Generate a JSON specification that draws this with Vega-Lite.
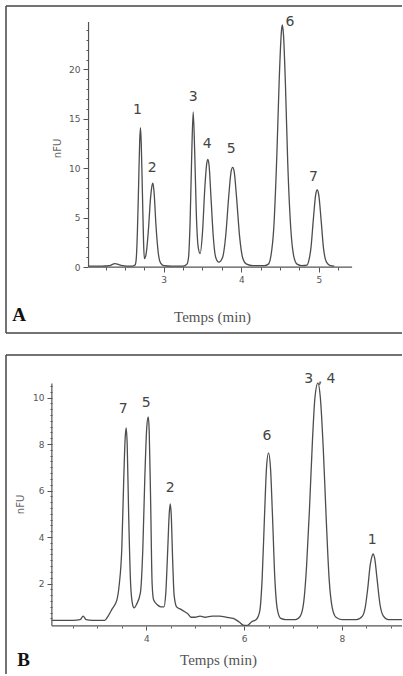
{
  "$schema": "https://vega.github.io/schema/vega-lite/v6.json",
  "padding": {"left": 5, "top": 5, "right": 0, "bottom": 0},
  "autosize": {"type": "pad"},
  "background": "white",
  "spacing": 20,
  "config": {
    "view": {"stroke": null},
    "axis": {"grid": false, "domain": false, "labelOverlap": false, "labelFont": "DejaVu Sans", "labelFontSize": 9, "labelColor": "#555", "tickColor": "#555", "tickWidth": 1, "titleFont": "Liberation Serif", "titleFontWeight": "normal", "titleColor": "#555"}
  },
  "datasets": {
    "frameA": [
      {"x1": 0.965, "x2": 0.965, "y1": -6.67, "y2": 26.42},
      {"x1": 0.965, "x2": 6.074, "y1": 26.42, "y2": 26.42},
      {"x1": 0.965, "x2": 6.074, "y1": -6.67, "y2": -6.67}
    ],
    "axesA": [
      {"x1": 2.03, "x2": 2.03, "y1": 0, "y2": 24.8},
      {"x1": 2.03, "x2": 5.43, "y1": 0, "y2": 0}
    ],
    "traceA": [
      {"t": 2.03, "v": 0.1}, {"t": 2.2, "v": 0.1}, {"t": 2.3, "v": 0.15}, {"t": 2.37, "v": 0.35}, {"t": 2.44, "v": 0.2},
      {"t": 2.52, "v": 0.1}, {"t": 2.6, "v": 0.1}, {"t": 2.63, "v": 0.2}, {"t": 2.645, "v": 0.8}, {"t": 2.66, "v": 3.5},
      {"t": 2.675, "v": 8.0}, {"t": 2.69, "v": 12.8}, {"t": 2.7, "v": 14.1}, {"t": 2.71, "v": 12.5}, {"t": 2.725, "v": 7.5},
      {"t": 2.74, "v": 2.5}, {"t": 2.75, "v": 0.85}, {"t": 2.77, "v": 1.2}, {"t": 2.8, "v": 3.5}, {"t": 2.83, "v": 7.0},
      {"t": 2.85, "v": 8.3}, {"t": 2.86, "v": 8.5}, {"t": 2.875, "v": 7.6}, {"t": 2.9, "v": 4.2}, {"t": 2.93, "v": 1.4},
      {"t": 2.96, "v": 0.4}, {"t": 3.0, "v": 0.15}, {"t": 3.1, "v": 0.1}, {"t": 3.25, "v": 0.1}, {"t": 3.3, "v": 0.3},
      {"t": 3.32, "v": 1.0}, {"t": 3.34, "v": 4.5}, {"t": 3.36, "v": 11.0}, {"t": 3.38, "v": 15.7}, {"t": 3.4, "v": 11.5},
      {"t": 3.42, "v": 5.5}, {"t": 3.445, "v": 2.0}, {"t": 3.47, "v": 1.37}, {"t": 3.5, "v": 3.5}, {"t": 3.53, "v": 8.0},
      {"t": 3.555, "v": 10.5}, {"t": 3.57, "v": 10.9}, {"t": 3.585, "v": 10.3}, {"t": 3.61, "v": 7.0}, {"t": 3.64, "v": 3.0},
      {"t": 3.67, "v": 1.0}, {"t": 3.71, "v": 0.5}, {"t": 3.76, "v": 1.0}, {"t": 3.8, "v": 3.2}, {"t": 3.84, "v": 7.3},
      {"t": 3.87, "v": 9.7}, {"t": 3.89, "v": 10.1}, {"t": 3.91, "v": 9.6}, {"t": 3.94, "v": 7.0}, {"t": 3.98, "v": 3.0},
      {"t": 4.02, "v": 0.9}, {"t": 4.07, "v": 0.3}, {"t": 4.15, "v": 0.15}, {"t": 4.3, "v": 0.15}, {"t": 4.35, "v": 0.3},
      {"t": 4.38, "v": 1.0}, {"t": 4.42, "v": 4.0}, {"t": 4.46, "v": 11.5}, {"t": 4.49, "v": 19.0}, {"t": 4.52, "v": 24.0},
      {"t": 4.53, "v": 24.5}, {"t": 4.545, "v": 23.5}, {"t": 4.57, "v": 18.5}, {"t": 4.6, "v": 10.5}, {"t": 4.64, "v": 3.8},
      {"t": 4.68, "v": 1.0}, {"t": 4.72, "v": 0.3}, {"t": 4.78, "v": 0.15}, {"t": 4.85, "v": 0.2}, {"t": 4.87, "v": 0.6},
      {"t": 4.9, "v": 2.0}, {"t": 4.93, "v": 4.8}, {"t": 4.96, "v": 7.3}, {"t": 4.98, "v": 7.8}, {"t": 5.0, "v": 7.3},
      {"t": 5.03, "v": 4.8}, {"t": 5.06, "v": 2.0}, {"t": 5.1, "v": 0.5}, {"t": 5.15, "v": 0.15}, {"t": 5.2, "v": 0.1}
    ],
    "labelsA": [
      {"t": 2.66, "v": 15.9, "label": "1"},
      {"t": 2.85, "v": 10.0, "label": "2"},
      {"t": 3.38, "v": 17.2, "label": "3"},
      {"t": 3.56, "v": 12.5, "label": "4"},
      {"t": 3.87, "v": 12.0, "label": "5"},
      {"t": 4.63, "v": 24.8, "label": "6"},
      {"t": 4.93, "v": 9.1, "label": "7"}
    ],
    "frameB": [
      {"x1": 1.132, "x2": 1.132, "y1": -1.89, "y2": 11.83},
      {"x1": 1.132, "x2": 9.23, "y1": 11.83, "y2": 11.83}
    ],
    "axesB": [
      {"x1": 2.07, "x2": 2.07, "y1": 0.18, "y2": 10.6},
      {"x1": 2.07, "x2": 9.23, "y1": 0.18, "y2": 0.18}
    ],
    "traceB": [
      {"t": 2.07, "v": 0.42}, {"t": 2.5, "v": 0.42}, {"t": 2.65, "v": 0.45}, {"t": 2.71, "v": 0.6}, {"t": 2.77, "v": 0.45},
      {"t": 2.9, "v": 0.42}, {"t": 3.15, "v": 0.42}, {"t": 3.22, "v": 0.6}, {"t": 3.3, "v": 0.9}, {"t": 3.4, "v": 1.3},
      {"t": 3.45, "v": 2.0}, {"t": 3.5, "v": 3.5}, {"t": 3.54, "v": 6.5}, {"t": 3.57, "v": 8.3}, {"t": 3.59, "v": 8.7},
      {"t": 3.61, "v": 8.0}, {"t": 3.64, "v": 5.0}, {"t": 3.68, "v": 2.0}, {"t": 3.72, "v": 1.1}, {"t": 3.75, "v": 0.95},
      {"t": 3.8, "v": 1.1}, {"t": 3.88, "v": 1.6}, {"t": 3.93, "v": 3.5}, {"t": 3.97, "v": 6.5}, {"t": 4.01, "v": 8.7},
      {"t": 4.04, "v": 9.17}, {"t": 4.06, "v": 8.6}, {"t": 4.09, "v": 5.5}, {"t": 4.12, "v": 2.0}, {"t": 4.15, "v": 1.3},
      {"t": 4.22, "v": 1.1}, {"t": 4.3, "v": 1.0}, {"t": 4.36, "v": 1.0}, {"t": 4.4, "v": 1.6}, {"t": 4.44, "v": 3.5},
      {"t": 4.47, "v": 5.0}, {"t": 4.49, "v": 5.43}, {"t": 4.51, "v": 5.0}, {"t": 4.54, "v": 3.0}, {"t": 4.57, "v": 1.5},
      {"t": 4.62, "v": 1.0}, {"t": 4.7, "v": 0.9}, {"t": 4.78, "v": 0.8}, {"t": 4.85, "v": 0.7}, {"t": 4.92, "v": 0.55},
      {"t": 5.0, "v": 0.55}, {"t": 5.1, "v": 0.6}, {"t": 5.2, "v": 0.55}, {"t": 5.35, "v": 0.6}, {"t": 5.5, "v": 0.6},
      {"t": 5.65, "v": 0.55}, {"t": 5.78, "v": 0.5}, {"t": 5.9, "v": 0.35}, {"t": 6.0, "v": 0.2}, {"t": 6.07, "v": 0.2},
      {"t": 6.15, "v": 0.35}, {"t": 6.25, "v": 0.45}, {"t": 6.32, "v": 0.8}, {"t": 6.37, "v": 2.2}, {"t": 6.42, "v": 5.0},
      {"t": 6.46, "v": 7.0}, {"t": 6.5, "v": 7.62}, {"t": 6.54, "v": 7.0}, {"t": 6.58, "v": 5.0}, {"t": 6.63, "v": 2.2},
      {"t": 6.68, "v": 0.9}, {"t": 6.75, "v": 0.5}, {"t": 6.85, "v": 0.45}, {"t": 7.05, "v": 0.45}, {"t": 7.15, "v": 0.6},
      {"t": 7.22, "v": 1.2}, {"t": 7.28, "v": 2.8}, {"t": 7.34, "v": 5.3}, {"t": 7.4, "v": 8.2}, {"t": 7.45, "v": 10.0},
      {"t": 7.51, "v": 10.63}, {"t": 7.56, "v": 10.0}, {"t": 7.62, "v": 7.8}, {"t": 7.68, "v": 4.8}, {"t": 7.74, "v": 2.2},
      {"t": 7.8, "v": 1.0}, {"t": 7.88, "v": 0.55}, {"t": 8.0, "v": 0.45}, {"t": 8.3, "v": 0.45}, {"t": 8.42, "v": 0.6},
      {"t": 8.48, "v": 1.0}, {"t": 8.53, "v": 1.8}, {"t": 8.58, "v": 2.8}, {"t": 8.62, "v": 3.2}, {"t": 8.64, "v": 3.28},
      {"t": 8.67, "v": 3.1}, {"t": 8.72, "v": 2.2}, {"t": 8.78, "v": 1.1}, {"t": 8.85, "v": 0.6}, {"t": 8.95, "v": 0.45},
      {"t": 9.23, "v": 0.45}
    ],
    "labelsB": [
      {"t": 3.53, "v": 9.51, "label": "7"},
      {"t": 4.0, "v": 9.77, "label": "5"},
      {"t": 4.49, "v": 6.12, "label": "2"},
      {"t": 6.47, "v": 8.35, "label": "6"},
      {"t": 7.55, "v": 10.8, "label": "3 , 4"},
      {"t": 8.62, "v": 3.88, "label": "1"}
    ]
  },
  "vconcat": [
    {
      "width": 396,
      "height": 327,
      "title": {"text": "A", "orient": "bottom", "anchor": "start", "baseline": "alphabetic", "offset": -13, "dx": 7, "font": "Liberation Serif", "fontSize": 19, "fontWeight": "bold", "color": "#111"},
      "resolve": {"scale": {"x": "independent", "y": "independent"}, "axis": {"x": "independent", "y": "independent"}},
      "layer": [
        {
          "data": {"name": "frameA"},
          "mark": {"type": "rule", "color": "#444", "strokeWidth": 1.5},
          "encoding": {
            "x": {"field": "x1", "type": "quantitative", "title": "Temps (min)",
              "scale": {"domain": [0.965, 6.074], "nice": false, "zero": false},
              "axis": {"orient": "bottom", "offset": -66, "values": [3, 4, 5], "tickSize": 5, "labelPadding": 3,
                "titleFontSize": 15, "titleX": 206, "titleY": 54, "titleBaseline": "alphabetic", "titleAlign": "center"}},
            "x2": {"field": "x2"},
            "y": {"field": "y1", "type": "quantitative", "title": "nFU",
              "scale": {"domain": [-6.67, 26.42], "nice": false, "zero": false},
              "axis": {"orient": "left", "offset": -82, "values": [0, 5, 10, 15, 20], "tickSize": 5, "labelPadding": 3,
                "titleFont": "DejaVu Sans", "titleFontSize": 10, "titleColor": "#666", "titleX": -31, "titleY": 142, "titleBaseline": "middle", "titleAlign": "center", "titleAngle": -90}},
            "y2": {"field": "y2"}
          }
        },
        {
          "data": {"name": "axesA"},
          "mark": {"type": "rule", "color": "#555", "strokeWidth": 1.2},
          "encoding": {
            "x": {"field": "x1", "type": "quantitative", "title": null,
              "scale": {"domain": [0.965, 6.074], "nice": false, "zero": false},
              "axis": {"orient": "bottom", "offset": -66, "values": [2.25, 2.5, 2.75, 3.25, 3.5, 3.75, 4.25, 4.5, 4.75, 5.25], "tickSize": 3, "labels": false}},
            "x2": {"field": "x2"},
            "y": {"field": "y1", "type": "quantitative", "title": null,
              "scale": {"domain": [-6.67, 26.42], "nice": false, "zero": false},
              "axis": {"orient": "left", "offset": -82, "values": [1, 2, 3, 4, 6, 7, 8, 9, 11, 12, 13, 14, 16, 17, 18, 19, 21, 22, 23, 24], "tickSize": 2, "labels": false}},
            "y2": {"field": "y2"}
          }
        },
        {
          "data": {"name": "traceA"},
          "mark": {"type": "line", "color": "#4d4d4d", "strokeWidth": 1.3, "interpolate": "monotone"},
          "encoding": {
            "x": {"field": "t", "type": "quantitative", "axis": null, "scale": {"domain": [0.965, 6.074], "nice": false, "zero": false}},
            "y": {"field": "v", "type": "quantitative", "axis": null, "scale": {"domain": [-6.67, 26.42], "nice": false, "zero": false}}
          }
        },
        {
          "data": {"name": "labelsA"},
          "mark": {"type": "text", "font": "DejaVu Sans", "fontSize": 14, "color": "#444", "baseline": "middle", "align": "center"},
          "encoding": {
            "x": {"field": "t", "type": "quantitative", "axis": null, "scale": {"domain": [0.965, 6.074], "nice": false, "zero": false}},
            "y": {"field": "v", "type": "quantitative", "axis": null, "scale": {"domain": [-6.67, 26.42], "nice": false, "zero": false}},
            "text": {"field": "label", "type": "nominal"}
          }
        }
      ]
    },
    {
      "width": 396,
      "height": 319,
      "title": {"text": "B", "orient": "bottom", "anchor": "start", "baseline": "alphabetic", "offset": -9, "dx": 12, "font": "Liberation Serif", "fontSize": 19, "fontWeight": "bold", "color": "#111"},
      "resolve": {"scale": {"x": "independent", "y": "independent"}, "axis": {"x": "independent", "y": "independent"}},
      "layer": [
        {
          "data": {"name": "frameB"},
          "mark": {"type": "rule", "color": "#444", "strokeWidth": 1.5},
          "encoding": {
            "x": {"field": "x1", "type": "quantitative", "title": "Temps (min)",
              "scale": {"domain": [1.132, 9.23], "nice": false, "zero": false},
              "axis": {"orient": "bottom", "offset": -48, "values": [4, 6, 8], "tickSize": 4, "labelPadding": 4,
                "titleFontSize": 15, "titleX": 212, "titleY": 38, "titleBaseline": "alphabetic", "titleAlign": "center"}},
            "x2": {"field": "x2"},
            "y": {"field": "y1", "type": "quantitative", "title": "nFU",
              "scale": {"domain": [-1.89, 11.83], "nice": false, "zero": false},
              "axis": {"orient": "left", "offset": -46, "values": [2, 4, 6, 8, 10], "tickSize": 5, "labelPadding": 3,
                "titleFont": "DejaVu Sans", "titleFontSize": 10, "titleColor": "#666", "titleX": -32, "titleY": 149, "titleBaseline": "middle", "titleAlign": "center", "titleAngle": -90}},
            "y2": {"field": "y2"}
          }
        },
        {
          "data": {"name": "axesB"},
          "mark": {"type": "rule", "color": "#555", "strokeWidth": 1.2},
          "encoding": {
            "x": {"field": "x1", "type": "quantitative", "title": null,
              "scale": {"domain": [1.132, 9.23], "nice": false, "zero": false},
              "axis": {"orient": "bottom", "offset": -48, "values": [2.5, 3, 3.5, 4.5, 5, 5.5, 6.5, 7, 7.5, 8.5, 9], "tickSize": 2, "labels": false}},
            "x2": {"field": "x2"},
            "y": {"field": "y1", "type": "quantitative", "title": null,
              "scale": {"domain": [-1.89, 11.83], "nice": false, "zero": false},
              "axis": {"orient": "left", "offset": -46, "values": [0.5, 0.75, 1, 1.25, 1.5, 1.75, 2.25, 2.5, 2.75, 3, 3.25, 3.5, 3.75, 4.25, 4.5, 4.75, 5, 5.25, 5.5, 5.75, 6.25, 6.5, 6.75, 7, 7.25, 7.5, 7.75, 8.25, 8.5, 8.75, 9, 9.25, 9.5, 9.75, 10.25, 10.5], "tickSize": 2, "labels": false}},
            "y2": {"field": "y2"}
          }
        },
        {
          "data": {"name": "traceB"},
          "mark": {"type": "line", "color": "#4d4d4d", "strokeWidth": 1.3, "interpolate": "monotone"},
          "encoding": {
            "x": {"field": "t", "type": "quantitative", "axis": null, "scale": {"domain": [1.132, 9.23], "nice": false, "zero": false}},
            "y": {"field": "v", "type": "quantitative", "axis": null, "scale": {"domain": [-1.89, 11.83], "nice": false, "zero": false}}
          }
        },
        {
          "data": {"name": "labelsB"},
          "mark": {"type": "text", "font": "DejaVu Sans", "fontSize": 14, "color": "#444", "baseline": "middle", "align": "center"},
          "encoding": {
            "x": {"field": "t", "type": "quantitative", "axis": null, "scale": {"domain": [1.132, 9.23], "nice": false, "zero": false}},
            "y": {"field": "v", "type": "quantitative", "axis": null, "scale": {"domain": [-1.89, 11.83], "nice": false, "zero": false}},
            "text": {"field": "label", "type": "nominal"}
          }
        }
      ]
    }
  ]
}
